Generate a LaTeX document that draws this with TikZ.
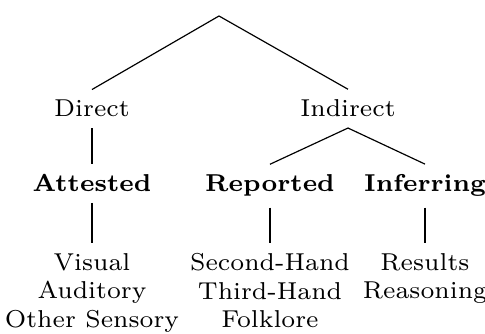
\documentclass[tikz,border=0pt]{standalone}
\usepackage{fix-cm}
\begin{document}
\begin{tikzpicture}[x=0.2967pt,y=-0.2967pt,
  every node/.style={font=\fontsize{7.25}{8.35}\selectfont, inner sep=3pt},
  plain/.style={anchor=base},
  cat/.style={anchor=base, font=\fontsize{7.25}{8.35}\selectfont\bfseries},
  leaf/.style={anchor=north, align=center},
  edge/.style={line width=0.35pt}]
\useasboundingbox (0,0) rectangle (485,334);
\coordinate (root) at (219,16);
\node[plain] (direct) at (92,117) {Direct};
\node[plain] (indirect) at (348,117) {Indirect};
\node[cat] (attested) at (92,192) {Attested};
\node[cat] (reported) at (270,192) {Reported};
\node[cat] (inferring) at (425,192) {Inferring};
\node[leaf] (sens) at (92,243) {Visual\\Auditory\\Other Sensory};
\node[leaf] (hear) at (270,243) {Second-Hand\\Third-Hand\\Folklore};
\node[leaf] (infer) at (425,243) {Results\\Reasoning};
\draw[edge] (root) -- (direct.north);
\draw[edge] (root) -- (indirect.north);
\draw[edge] (direct.south) -- (attested.north);
\draw[edge] (indirect.south) -- (reported.north);
\draw[edge] (indirect.south) -- (inferring.north);
\draw[edge] (attested.south) -- (sens.north);
\draw[edge] (reported.south) -- (hear.north);
\draw[edge] (inferring.south) -- (infer.north);
\end{tikzpicture}
\end{document}
